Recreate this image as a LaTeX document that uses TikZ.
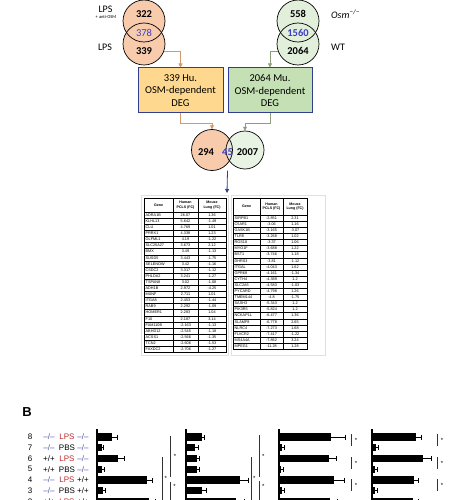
\documentclass[tikz,border=0pt]{standalone}
\usepackage{fontspec}
\setmainfont{Carlito}
\newfontfamily\arialfont{Liberation Sans}
\usetikzlibrary{arrows.meta}

\definecolor{peach}{HTML}{F8CBAD}
\definecolor{mint}{HTML}{E2EFDA}
\definecolor{gold}{HTML}{FDD88E}
\definecolor{sage}{HTML}{C5E0B4}
\definecolor{boxblue}{HTML}{2F3E8F}
\definecolor{numblue}{HTML}{3B3FC4}
\definecolor{huline}{HTML}{D09A6A}
\definecolor{muline}{HTML}{8E9E7A}
\definecolor{lpsred}{HTML}{C0282D}
\definecolor{kocol}{HTML}{4B4FA8}

\newcommand\genko{{\color{kocol}–/–}}
\newcommand\genwt{+/+}

\tikzset{
  venn/.style={circle,inner sep=0pt},
  vennline/.style={draw=black,line width=0.7pt},
  vennnum/.style={inner sep=0pt,font=\bfseries\fontsize{10.5}{12}\selectfont},
  vennlab/.style={inner sep=0pt,font=\fontsize{10}{12}\selectfont},
  degbox/.style={draw=boxblue,line width=1pt,minimum height=45pt,
    align=center,font=\fontsize{10.5}{12.5}\selectfont},
  huflow/.style={draw=huline,line width=0.8pt,-{Triangle[length=4pt,width=4pt]}},
  muflow/.style={draw=muline,line width=0.8pt,-{Triangle[length=4pt,width=4pt]}},
  degflow/.style={draw=boxblue,line width=0.8pt,-{Triangle[length=4pt,width=4pt]}},
  tabframe/.style={draw=black!12,line width=0.6pt},
  tabrule/.style={draw=black,line width=0.4pt},
  tabhead/.style={inner sep=0pt,align=center,
    font=\arialfont\bfseries\fontsize{3.6}{4.4}\selectfont},
  tabcell/.style={inner sep=0pt,font=\arialfont\fontsize{3.8}{4.4}\selectfont},
  rowlab/.style={inner sep=0pt,font=\arialfont\fontsize{8}{9}\selectfont},
  whisker/.style={line width=0.6pt},
  axisline/.style={line width=1.3pt},
  sigline/.style={line width=0.6pt,draw=black!80},
  sigstar/.style={inner sep=0pt,font=\arialfont\fontsize{6}{6}\selectfont}
}

\begin{document}
\begin{tikzpicture}[x=1pt,y=-1pt]
  \useasboundingbox (0,0) rectangle (457,500);
  \clip (0,0) rectangle (457,500);

  % human venn
  \node[venn,fill=peach,minimum size=42pt] (huTop) at (144,21) {};
  \node[venn,fill=peach,minimum size=42pt] (huBot) at (144,44) {};
  % mouse venn
  \node[venn,fill=mint,minimum size=42pt] (muTop) at (298,21) {};
  \node[venn,fill=mint,minimum size=42pt] (muBot) at (298,44) {};
  \foreach \c in {huTop,huBot,muTop,muBot}
    \draw[vennline] (\c.center) circle [radius=21pt];

  \node[vennnum] (n322) at (144,14) {322};
  \node[vennnum,font=\fontsize{10.5}{12}\selectfont,text=numblue] (n378) at (144,33) {378};
  \node[vennnum] (n339) at (144,51) {339};
  \node[vennnum] (n558) at (298,14) {558};
  \node[vennnum,text=numblue] (n1560) at (298,33) {1560};
  \node[vennnum] (n2064) at (298,51) {2064};

  \node[vennlab] (lpsAnti) at (105.5,9.5) {LPS};
  \node[inner sep=0pt,font=\fontsize{4.5}{5}\selectfont] (antiOSM)
    at (106,16.5) {+ anti-OSM};
  \node[vennlab] (lpsOnly) at (105,47) {LPS};
  \node[vennlab,anchor=west] (osmKO) at (331,14) {\itshape Osm\textsuperscript{−/−}};
  \node[vennlab,anchor=west] (wtLab) at (331,47) {WT};

  % DEG boxes
  \node[degbox,fill=gold,minimum width=85pt] (huDEG)
    at (180.5,90.5) {339 Hu.\\OSM-dependent\\DEG};
  \node[degbox,fill=sage,minimum width=84pt] (muDEG)
    at (270,90.5) {2064 Mu.\\OSM-dependent\\DEG};

  \draw[huflow]
    (huBot.-20)
    -|
    (huDEG.north);
  \draw[muflow]
    (muBot.200)
    -|
    (muDEG.north);

  % overlap venn
  \node[venn,fill=peach,minimum size=41pt] (vennHu) at (212,150) {};
  \node[venn,fill=mint,fill opacity=0.75,minimum size=38pt] (vennMu) at (245,150) {};
  \draw[vennline] (vennHu.center) circle [radius=20.5pt];
  \draw[vennline] (vennMu.center) circle [radius=19pt];
  \node[vennnum] (n294) at (206,152) {294};
  \node[vennnum,text=numblue] (n45) at (227.5,152) {45};
  \node[vennnum] (n2007) at (247.5,152) {2007};

  \draw[huflow]
    (huDEG.south)
    --
    ++(0,10)
    -|
    (vennHu.north);
  \draw[muflow]
    (muDEG.south)
    --
    ++(0,10)
    -|
    (vennMu.north);

  \coordinate (tabTop) at (227,193);
  \draw[degflow]
    (vennHu.south -| n45)
    --
    (tabTop);

  % faint frames round the tables
  \draw[tabframe] (141,195.5) rectangle (228.5,355);
  \draw[tabframe] (231,195.5) rectangle (325,355);

  % left table
  \draw[tabrule,line width=0.7pt] (144,198) rectangle (226,352.3);
  \draw[tabrule] (173,198) -- (173,352.3);
  \draw[tabrule] (198,198) -- (198,352.3);
  \node[tabhead] (huGene) at (158.5,205) {Gene};
  \node[tabhead] (huPCLS) at (185.5,205) {Human\\PCLS (FC)};
  \node[tabhead] (huLung) at (212,205) {Mouse\\Lung (FC)};
  \foreach \g/\h/\m [count=\i] in {
    ADRA1B/26.07/1.36, KLHL13/5.642/-1.49, CLU/4.769/1.01,
    PRRX1/4.338/1.23, OLFML1/4.19/-1.22, SLC25A27/3.673/2.12,
    BMX/3.49/-1.13, SUSD5/3.443/-1.75, SELENOW/3.42/-1.16,
    CSDC2/3.317/-1.12, PHLDA2/3.241/-1.27, TSPAN8/3.02/-1.08,
    ADH1B/2.972/-4.25, MANF/2.711/1.01, ITGA8/2.453/-1.44,
    RAB9/2.292/-1.09, HOMER1/2.283/1.04, F10/2.187/3.14,
    FAM110B/-2.163/-1.13, ABHD12/-2.545/-1.18, ACSS1/-2.566/-1.35,
    TCN2/-2.606/-1.53, FAXDC2/-2.706/-1.27}
  {
    \draw[tabrule]
      (144,{212+6.1*(\i-1)})
      --
      (226,{212+6.1*(\i-1)});
    \node[tabcell,anchor=west] (huG\i) at (145.5,{212+6.1*\i-3.05}) {\g};
    \node[tabcell] (huH\i) at (185.5,{212+6.1*\i-3.05}) {\h};
    \node[tabcell] (huM\i) at (212,{212+6.1*\i-3.05}) {\m};
  }

  % right table
  \draw[tabrule,line width=0.7pt] (233,198) rectangle (307,349.2);
  \draw[tabrule] (260,198) -- (260,349.2);
  \draw[tabrule] (283,198) -- (283,349.2);
  \node[tabhead] (muGene) at (246.5,206.5) {Gene};
  \node[tabhead] (muPCLS) at (271.5,206.5) {Human\\PCLS (FC)};
  \node[tabhead] (muLung) at (295,206.5) {Mouse\\Lung (FC)};
  \foreach \g/\h/\m [count=\i] in {
    SIRPB1/-2.851/2.31, C5AR1/-3.06/1.16, GASK1B/-3.165/-3.07,
    TLR8/-3.268/1.02, RGS18/-3.37/1.06, MYO1F/-3.688/1.22,
    BST1/-3.746/1.18, DHRS3/-3.81/-1.12, ITGAL/-4.043/1.62,
    GPR68/-4.161/-1.34, CYTH4/-4.389/1.2, SLC2A5/-4.583/-1.03,
    PYCARD/-4.798/1.26, TMEM144/-4.8/-1.75, SASH3/-5.343/1.2,
    PIK3R5/-5.824/1.2, NCKAP1L/-6.477/1.36, SLAMF8/-6.778/2.65,
    NLRC4/-7.273/1.68, FLVCR2/-7.417/-1.22, MS4A4A/-7.862/3.24,
    MPEG1/-11.28/1.28}
  {
    \draw[tabrule]
      (233,{215+6.1*(\i-1)})
      --
      (307,{215+6.1*(\i-1)});
    \node[tabcell,anchor=west] (muG\i) at (234.5,{215+6.1*\i-3.05}) {\g};
    \node[tabcell] (muH\i) at (271.5,{215+6.1*\i-3.05}) {\h};
    \node[tabcell] (muM\i) at (295,{215+6.1*\i-3.05}) {\m};
  }

  % panel B
  \node[inner sep=0pt,font=\arialfont\bfseries\fontsize{13}{13}\selectfont]
    (panelB) at (27,412) {B};

  \foreach \r/\gl/\tr/\gr in {
    8/\genko/{\color{lpsred}LPS}/\genko, 7/\genko/PBS/\genko,
    6/\genwt/{\color{lpsred}LPS}/\genko, 5/\genwt/PBS/\genko,
    4/\genko/{\color{lpsred}LPS}/\genwt, 3/\genko/PBS/\genwt,
    2/\genwt/{\color{lpsred}LPS}/\genwt}
  {
    \node[rowlab] (num\r) at (30,{437+(8-\r)*10.75}) {\r};
    \node[rowlab] (left\r) at (49,{437+(8-\r)*10.75}) {\gl};
    \node[rowlab] (treat\r) at (67,{437+(8-\r)*10.75}) {\tr};
    \node[rowlab] (right\r) at (83,{437+(8-\r)*10.75}) {\gr};
  }

  \foreach \ax in {97,186,279,372}
    \draw[axisline]
      (\ax,429)
      --
      (\ax,505);

  \foreach \ax/\r/\b/\w in {
    97/8/112/117, 97/7/102/103, 97/6/118/124, 97/5/102/104,
    97/4/147/152, 97/3/103/105, 97/2/149/155,
    186/8/202/204, 186/7/195/198, 186/6/197/199, 186/5/197/199,
    186/4/240/248, 186/3/202/206, 186/2/236/244,
    279/8/331/345, 279/7/282/284, 279/6/329/336, 279/5/281/283,
    279/4/334/344, 279/3/282/284, 279/2/330/337,
    372/8/416/421, 372/7/376/378, 372/6/423/431, 372/5/375/377,
    372/4/414/418, 372/3/375/377, 372/2/413/418}
  {
    \fill
      (\ax,{437+(8-\r)*10.75-3.6})
      rectangle
      (\b,{437+(8-\r)*10.75+3.6});
    \draw[whisker]
      (\b,{437+(8-\r)*10.75})
      --
      (\w,{437+(8-\r)*10.75})
      (\w,{437+(8-\r)*10.75-2.5})
      --
      (\w,{437+(8-\r)*10.75+2.5});
  }

  % significance
  \draw[sigline] (170.7,436) -- (170.7,477);
  \draw[sigline] (170.7,482) -- (170.7,505);
  \draw[sigline] (162.7,457) -- (162.7,505);
  \node[sigstar] (s1a) at (175,456) {*};
  \node[sigstar] (s1b) at (174.5,486) {*};
  \node[sigstar] (s1c) at (165.7,478) {*};

  \draw[sigline] (259.3,435) -- (259.3,477);
  \draw[sigline] (259.3,481) -- (259.3,505);
  \draw[sigline] (251.7,457) -- (251.7,505);
  \node[sigstar] (s2a) at (263.3,456) {*};
  \node[sigstar] (s2b) at (263.3,486) {*};
  \node[sigstar] (s2c) at (254.3,478) {*};

  \foreach \sx in {351.7,437.7}
    \foreach \sy in {434,457,479}
    {
      \draw[sigline]
        (\sx,\sy)
        --
        (\sx,\sy+12);
      \node[sigstar] (s\sx\sy) at (\sx+4.3,\sy+6.5) {*};
    }
\end{tikzpicture}
\end{document}
